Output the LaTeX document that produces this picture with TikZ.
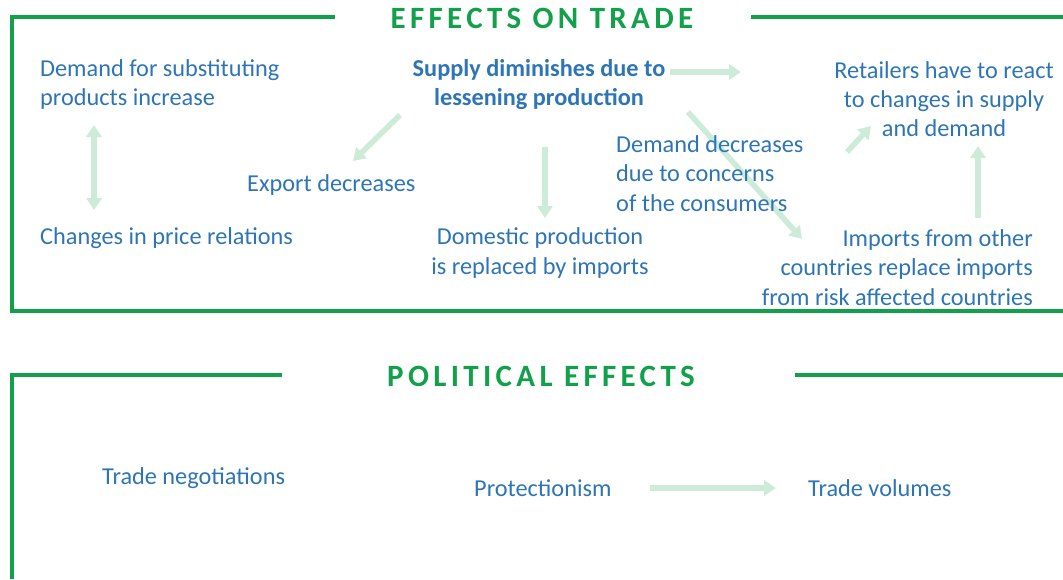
\documentclass[tikz,border=0pt]{standalone}
\usepackage{fontspec}
\setmainfont{Carlito}
\usetikzlibrary{arrows.meta}
\definecolor{tblue}{RGB}{46,117,182}
\definecolor{fgreen}{RGB}{18,160,75}
\definecolor{agreen}{RGB}{205,235,217}
\tikzset{
  txt/.style={inner sep=0pt, text=tblue, font=\fontsize{24.3}{29.3}\selectfont},
  ttl/.style={inner sep=0pt, text=fgreen, anchor=base, font=\fontsize{31}{36}\selectfont\bfseries\addfontfeature{LetterSpace=14}},
  frame/.style={draw=fgreen, line width=4pt},
  arr/.style={draw=agreen, line width=5.5pt, -{Triangle[width=15pt,length=12pt]}},
  darr/.style={draw=agreen, line width=5.5pt, {Triangle[width=15pt,length=12pt]}-{Triangle[width=15pt,length=12pt]}}
}
\begin{document}
\begin{tikzpicture}[x=1pt,y=-1pt]
\useasboundingbox (0,0) rectangle (1063,579);
% frames
\draw[frame] (335,16.5) -- (11.5,16.5) -- (11.5,311) -- (1063,311);
\draw[frame] (751,16.5) -- (1063,16.5);
\draw[frame] (282,375) -- (11.5,375) -- (11.5,579);
\draw[frame] (795,375) -- (1063,375);
% titles
\node[ttl] (t1) at (542,28.5) {EFFECTS ON TRADE};
\node[ttl] (t2) at (541,386.5) {POLITICAL EFFECTS};
% arrow end points
\coordinate (a1s) at (94,125); \coordinate (a1e) at (94,210);
\coordinate (a2s) at (400,115); \coordinate (a2e) at (353,161);
\coordinate (a3s) at (545,147); \coordinate (a3e) at (545,218);
\coordinate (a4s) at (670,72); \coordinate (a4e) at (741,72);
\coordinate (a5s) at (688,112); \coordinate (a5e) at (802,239);
\coordinate (a6s) at (847,152); \coordinate (a6e) at (871,126);
\coordinate (a7s) at (978,218); \coordinate (a7e) at (978,146);
\coordinate (a8s) at (650,488); \coordinate (a8e) at (776,488);
% arrows (behind the texts)
\draw[darr] (a1s) -- (a1e);
\draw[arr] (a2s) -- (a2e);
\draw[arr] (a3s) -- (a3e);
\draw[arr] (a4s) -- (a4e);
\draw[arr] (a5s) -- (a5e);
\draw[arr] (a6s) -- (a6e);
\draw[arr] (a7s) -- (a7e);
\draw[arr] (a8s) -- (a8e);
% texts
\node[txt, anchor=west, align=left] (subst) at (40,84.5) {Demand for substituting\\products increase};
\node[txt, align=center, font=\fontsize{24.3}{29.3}\selectfont\bfseries] (supply) at (539,84.5) {Supply diminishes due to\\lessening production};
\node[txt, align=center] (retail) at (944,99) {Retailers have to react\\to changes in supply\\and demand};
\node[txt, anchor=west] (export) at (247,185.5) {Export decreases};
\node[txt, anchor=west, align=left] (demand) at (616,173.5) {Demand decreases\\due to concerns\\of the consumers};
\node[txt, anchor=west] (price) at (40,238.5) {Changes in price relations};
\node[txt, align=center] (domestic) at (540,253) {Domestic production\\is replaced by imports};
\node[txt, anchor=east, align=right] (imports) at (1033,267.5) {Imports from other\\countries replace imports\\from risk affected countries};
\node[txt, anchor=west] (nego) at (102,478.5) {Trade negotiations};
\node[txt, anchor=west] (prot) at (474,488.5) {Protectionism};
\node[txt, anchor=west] (vol) at (808,488.5) {Trade volumes};
\end{tikzpicture}
\end{document}
